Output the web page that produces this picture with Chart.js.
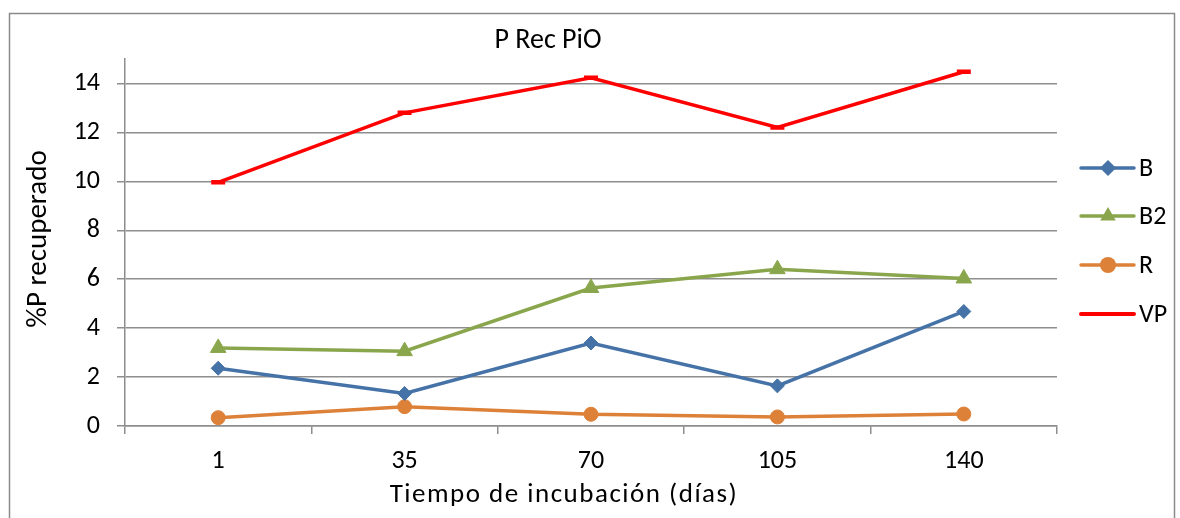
<!DOCTYPE html>
<html>
<head>
<meta charset="utf-8">
<script src="https://cdn.jsdelivr.net/npm/chart.js@4.4.1/dist/chart.umd.min.js"></script>
<style>
html,body{margin:0;padding:0;background:#fff;}
#wrap{position:relative;width:1180px;height:518px;}
canvas{display:block;}
</style>
</head>
<body>
<div id="wrap"><canvas id="c" width="1180" height="518"></canvas></div>
<script>
const categories = ['1', '35', '70', '105', '140'];
const seriesB  = [2.36, 1.33, 3.39, 1.64, 4.68];
const seriesB2 = [3.19, 3.06, 5.64, 6.41, 6.03];
const seriesR  = [0.34, 0.79, 0.48, 0.37, 0.49];
const seriesVP = [9.96, 12.8, 14.23, 12.2, 14.48];
const yTicks = [0, 2, 4, 6, 8, 10, 12, 14];
const titleText = 'P Rec PiO';
const xTitle = 'Tiempo de incubación (días)';
const yTitle = '%P recuperado';

const FONT = 'Carlito, Lato, "Open Sans", sans-serif';
const GRID = '#8e8e8e';

const styles = [
  {label:'B',  data:seriesB,  color:'#4572A7', point:'rectRot',  r:7},
  {label:'B2', data:seriesB2, color:'#8AA64C', point:'triangle', r:9},
  {label:'R',  data:seriesR,  color:'#DD8139', point:'circle',   r:7},
  {label:'VP', data:seriesVP, color:'#FF0000', point:'line',     r:7}
];

function drawMarker(ctx, style, x, y, r, color){
  ctx.save();
  ctx.fillStyle = color; ctx.strokeStyle = color;
  ctx.beginPath();
  if (style === 'rectRot'){
    ctx.moveTo(x, y - r - 1); ctx.lineTo(x + r + 1, y); ctx.lineTo(x, y + r + 1); ctx.lineTo(x - r - 1, y); ctx.closePath(); ctx.fill();
  } else if (style === 'triangle'){
    ctx.moveTo(x, y - r); ctx.lineTo(x + r*0.866, y + r*0.5); ctx.lineTo(x - r*0.866, y + r*0.5); ctx.closePath(); ctx.fill();
  } else if (style === 'circle'){
    ctx.arc(x, y, r + 1, 0, Math.PI*2); ctx.fill();
  }
  ctx.restore();
}

const decor = {
  id:'decor',
  afterDraw(chart){
    const ctx = chart.ctx;
    ctx.save();
    // outer border
    ctx.strokeStyle = '#8a8a8a'; ctx.lineWidth = 1.5;
    ctx.strokeRect(9.5, 13.5, 1165, 530);
    // title
    ctx.fillStyle = '#000';
    ctx.font = '28px ' + FONT;
    ctx.textAlign = 'center'; ctx.textBaseline = 'middle';
    ctx.fillText(titleText, 548, 41);
    // x title
    ctx.font = '27px ' + FONT;
    try { ctx.letterSpacing = '1.5px'; } catch(e){}
    ctx.fillText(xTitle, 564, 495);
    try { ctx.letterSpacing = '0px'; } catch(e){}
    // y title
    ctx.save();
    ctx.translate(39, 239);
    ctx.rotate(-Math.PI/2);
    ctx.font = '29px ' + FONT;
    ctx.fillText(yTitle, 0, 0);
    ctx.restore();
    // legend
    const ly = [168, 216, 265, 314];
    styles.forEach((s, i) => {
      const y = ly[i];
      ctx.strokeStyle = s.color; ctx.lineWidth = s.point === 'line' ? 4 : 3.5;
      ctx.lineCap = 'round';
      ctx.beginPath(); ctx.moveTo(1081, y); ctx.lineTo(1134, y); ctx.stroke();
      drawMarker(ctx, s.point, 1108, y, s.point==='triangle'?9:7, s.color);
      ctx.fillStyle = '#000';
      ctx.font = '26px ' + FONT;
      ctx.textAlign = 'left'; ctx.textBaseline = 'middle';
      ctx.fillText(s.label, 1139, y + 1);
    });
    ctx.restore();
  }
};

new Chart(document.getElementById('c'), {
  type:'line',
  data:{
    labels:categories,
    datasets: styles.map(s => ({
      label:s.label,
      data:s.data,
      borderColor:s.color,
      backgroundColor:s.color,
      borderWidth:3.5,
      pointStyle:s.point,
      pointRadius:s.r,
      pointBorderWidth: s.point === 'line' ? 4.5 : 1,
      pointBackgroundColor:s.color,
      pointBorderColor:s.color,
      tension:0,
      fill:false
    }))
  },
  options:{
    responsive:false,
    animation:false,
    devicePixelRatio:1,
    layout:{padding:{left:0, top:59, right:123, bottom:0}},
    plugins:{legend:{display:false}, title:{display:false}, tooltip:{enabled:false}},
    scales:{
      x:{
        type:'category',
        offset:true,
        grid:{offset:true, drawOnChartArea:false, drawTicks:true, tickLength:8, color:GRID, lineWidth:1.5},
        border:{display:true, color:GRID, width:1.5},
        ticks:{color:'#000', font:{family:FONT, size:26}, padding:12, maxRotation:0},
        afterFit(s){ s.height = 92; }
      },
      y:{
        min:0, max:15,
        afterBuildTicks(s){ s.ticks = yTicks.map(v => ({value:v})); },
        grid:{drawOnChartArea:true, drawTicks:true, tickLength:8, color:GRID, lineWidth:1.5},
        border:{display:true, color:GRID, width:1.5},
        ticks:{color:'#000', font:{family:FONT, size:26}, padding:17},
        afterFit(s){ s.width = 125; }
      }
    }
  },
  plugins:[decor]
});
</script>
</body>
</html>
